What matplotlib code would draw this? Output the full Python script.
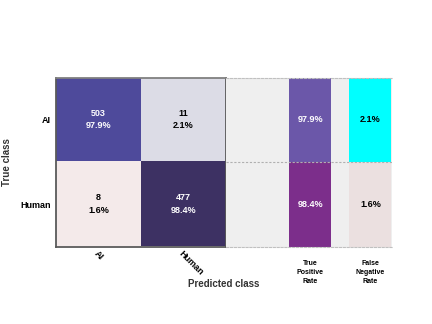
import numpy as np
import matplotlib
matplotlib.use("Agg")
import matplotlib.pyplot as plt
from matplotlib.colors import ListedColormap

plt.rcParams['font.family'] = ['Liberation Sans', 'DejaVu Sans']

classes = ["AI", "Human"]
counts = [[503, 11], [8, 477]]
row_pct = [[97.9, 2.1], [1.6, 98.4]]
tpr = [97.9, 98.4]
fnr = [2.1, 1.6]
rate_labels = ["True\nPositive\nRate", "False\nNegative\nRate"]

cell_colors = ["#4e4a9b", "#dcdce6", "#f4eaea", "#3d3163"]
cell_text_colors = ["white", "black", "black", "white"]
tpr_colors = ["#6b57a9", "#7c2e8b"]
tpr_text = ["white", "white"]
fnr_colors = ["#00ffff", "#ebe0e0"]
fnr_text = ["black", "black"]

fig = plt.figure(figsize=(4.32, 3.24), dpi=100)
W, H = 432, 324

def rect(x0, y0, x1, y1):
    return [x0 / W, 1 - y1 / H, (x1 - x0) / W, (y1 - y0) / H]

ax = fig.add_axes(rect(56, 77.5, 226, 246.5))
idx = np.arange(4).reshape(2, 2)
ax.imshow(idx, cmap=ListedColormap(cell_colors), vmin=-0.5, vmax=3.5, aspect='auto')
for i in range(2):
    for j in range(2):
        k = i * 2 + j
        ax.text(j, i, f"{counts[i][j]}\n{row_pct[i][j]:.1f}%", ha='center', va='center',
                fontsize=6.5, fontweight='bold', color=cell_text_colors[k], linespacing=1.5)
ax.set_xticks(range(2))
ax.set_yticks(range(2))
ax.set_xticklabels(classes, rotation=-45, ha='left', va='top', fontsize=6.5,
                   rotation_mode='anchor')
ax.set_yticklabels(classes, fontsize=6.5, fontweight='bold')
for t in ax.get_xticklabels():
    t.set_fontweight('bold')
ax.tick_params(axis='y', length=0, pad=4)
ax.tick_params(axis='x', length=0, pad=2)
for side, s in ax.spines.items():
    s.set_color('#5a5a5a')
    s.set_linewidth(1.3)
ax.spines['top'].set_color('#808080')
ax.set_ylabel("True class", fontsize=7, fontweight='bold', color='#333333', labelpad=6)

ax2 = fig.add_axes(rect(226, 77.5, 391.5, 246.5))
ax2.set_facecolor('#efefef')
ax2.set_xlim(0, 3.93)
ax2.set_ylim(2, 0)
ax2.bar([2.0, 2.0], [1, 1], bottom=[0, 1], width=1.0, color=tpr_colors, zorder=2)
ax2.bar([3.43, 3.43], [1, 1], bottom=[0, 1], width=1.0, color=fnr_colors, zorder=2)
for i in range(2):
    ax2.text(2.0, i + 0.5, f"{tpr[i]:.1f}%", ha='center', va='center', fontsize=6.5,
             fontweight='bold', color=tpr_text[i], zorder=3)
    ax2.text(3.43, i + 0.5, f"{fnr[i]:.1f}%", ha='center', va='center', fontsize=6.5,
             fontweight='bold', color=fnr_text[i], zorder=3)
ax2.axhline(1, color='#b0b0b0', lw=0.8, ls=(0, (2, 1.5)), zorder=4)
ax2.set_xticks([2.0, 3.43])
ax2.set_xticklabels(rate_labels, fontsize=5, fontweight='bold', va='top', linespacing=1.4)
ax2.set_yticks([])
ax2.tick_params(length=0, pad=10)
for side in ['left', 'right']:
    ax2.spines[side].set_visible(False)
for side in ['top', 'bottom']:
    ax2.spines[side].set_color('#c0c0c0')
    ax2.spines[side].set_linestyle((0, (2, 1.5)))
    ax2.spines[side].set_linewidth(0.8)

fig.text(223.5 / W, 1 - 284 / H, "Predicted class", ha='center', va='center',
         fontsize=7, fontweight='bold', color='#333333')

fig.savefig("out.png", dpi=100)
